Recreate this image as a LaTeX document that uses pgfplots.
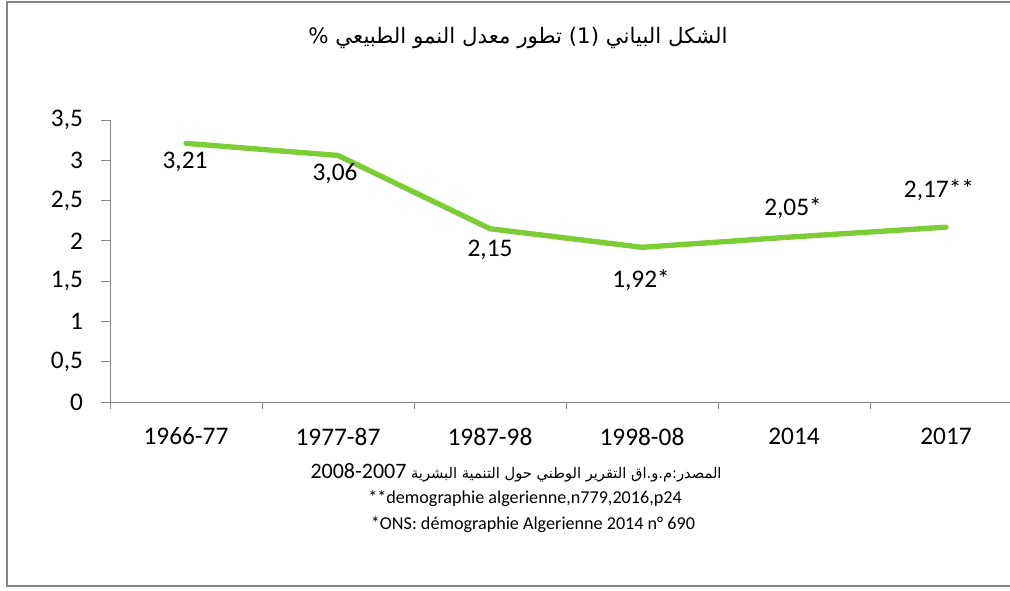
\documentclass[border=0pt]{standalone}
\usepackage{fontspec}
\setmainfont{Carlito}
\newfontfamily\arabicfont[Script=Arabic]{DejaVu Sans}
\TeXXeTstate=1
\usepackage{pgfplots}
\usepackage{pgfplotstable}
\pgfplotsset{compat=1.18}
\definecolor{linegreen}{RGB}{125,205,55}
\definecolor{axgray}{RGB}{134,134,134}
\pgfplotstableread{
x y lbl dx dy
0 3.21 3,21 -1 -19
1 3.06 3,06 -3 -18
2 2.15 2,15 0 -21
3 1.92 1,92* -1 -33
4 2.05 2,05* -1 29
5 2.17 2,17** -7 37
}\datatable
\begin{document}
\begin{tikzpicture}
\path[use as bounding box] (0,0) rectangle (757.5pt,442.5pt);
\clip (0,0) rectangle (757.5pt,442.5pt);
\fill[white] (0,0) rectangle (757.5pt,442.5pt);
\draw[axgray, line width=1.5pt] (765pt,441pt) -- (5.25pt,441pt) -- (5.25pt,3pt) -- (765pt,3pt);
\begin{axis}[
  at={(82.5pt,141pt)}, anchor=south west,
  scale only axis, width=684pt, height=211.5pt,
  xmin=-0.5, xmax=5.5, ymin=0, ymax=3.5,
  axis x line*=bottom, axis y line*=left,
  axis line style={axgray, line width=0.75pt},
  tick style={axgray, line width=0.75pt},
  tick align=outside,
  xtick={0,...,5},
  xticklabels={1966-77,1977-87,1987-98,1998-08,2014,2017},
  major x tick style={draw=none},
  minor xtick={-0.5,0.5,...,5.5},
  minor tick length=5.25pt,
  major tick length=6.75pt,
  ytick={0,0.5,...,3.5},
  yticklabels={0,{0,5},1,{1,5},2,{2,5},3,{3,5}},
  ticklabel style={font=\fontsize{19}{22}\selectfont, text=black},
  xticklabel style={yshift=-9pt},
  yticklabel style={xshift=-10pt},
  /pgf/number format/assume math mode=true,
  clip=false,
]
\addplot[linegreen, line width=4pt, line join=round, line cap=round,
  nodes near coords, point meta=explicit symbolic,
  visualization depends on={\thisrow{dx} \as \ldx},
  visualization depends on={\thisrow{dy} \as \ldy},
  every node near coord/.append style={anchor=center, text=black,
     font=\fontsize{19}{22}\selectfont,
     xshift={\ldx*0.75pt}, yshift={\ldy*0.75pt}}]
  table[x=x, y=y, meta=lbl] {\datatable};
\end{axis}
\node[font=\arabicfont\fontsize{16}{19}\selectfont] at (388.5pt,414pt)
  {\beginR الشكل البياني \beginL(1)\endL{} تطور معدل النمو الطبيعي \%\endR};
\node[font=\arabicfont\fontsize{11}{14}\selectfont] at (387pt,87.75pt)
  {\beginR المصدر:م.و.اق التقرير الوطني حول التنمية البشرية \beginL{\rmfamily\fontsize{16.5}{19}\selectfont 2008-2007}\endL\endR};
\node[font=\fontsize{13.6}{16}\selectfont] at (393.75pt,68.25pt) {**demographie algerienne,n779,2016,p24};
\node[font=\fontsize{13.6}{16}\selectfont] at (399.75pt,48.75pt) {*ONS: démographie Algerienne 2014 n° 690};
\end{tikzpicture}
\end{document}
